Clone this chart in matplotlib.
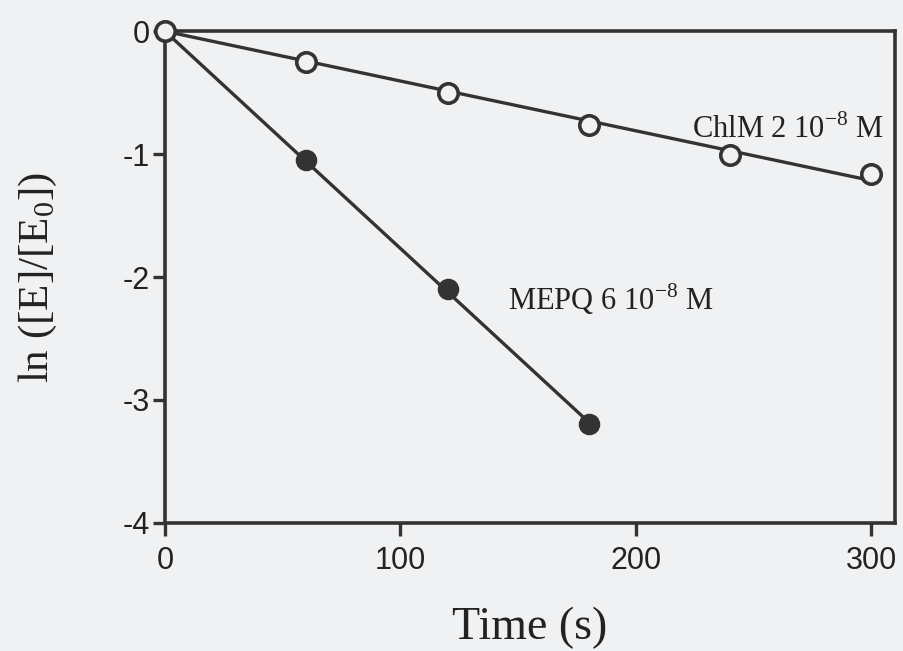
import numpy as np
import matplotlib
matplotlib.use("Agg")
import matplotlib.pyplot as plt

# data
time_chlm = [0, 60, 120, 180, 240, 300]
ln_chlm = [0.0, -0.25, -0.50, -0.76, -1.01, -1.16]
time_mepq = [0, 60, 120, 180]
ln_mepq = [0.0, -1.05, -2.10, -3.20]

x_ticks = [0, 100, 200, 300]
y_ticks = [0, -1, -2, -3, -4]

plt.rcParams['axes.unicode_minus'] = False
plt.rcParams['mathtext.fontset'] = 'custom'
plt.rcParams['mathtext.rm'] = 'Liberation Serif'

ink = '#333333'
bg = '#f0f1f3'


def fit_origin(x, y):
    x = np.asarray(x, float)
    y = np.asarray(y, float)
    return np.sum(x * y) / np.sum(x * x)


fig = plt.figure(figsize=(9.04, 6.51), dpi=100, facecolor=bg)
ax = fig.add_axes([0.1825, 0.197, 0.8075, 0.755])
ax.set_facecolor(bg)

# fitted lines
for t, v in [(time_chlm, ln_chlm), (time_mepq, ln_mepq)]:
    k = fit_origin(t, v)
    xs = np.array([0, max(t)])
    ax.plot(xs, k * xs, color=ink, lw=2.4, zorder=2, clip_on=False)

ax.plot(time_mepq, ln_mepq, 'o', ms=14, mfc=ink, mec=ink, mew=1.5,
        zorder=3, clip_on=False)
ax.plot(time_chlm, ln_chlm, 'o', ms=14, mfc=bg, mec=ink, mew=2.6,
        zorder=4, clip_on=False)

ax.set_xlim(0, 310)
ax.set_ylim(-4, 0)
ax.set_xticks(x_ticks)
ax.set_yticks(y_ticks)
ax.set_xticklabels([str(v) for v in x_ticks], family='Liberation Sans', fontsize=22)
ax.set_yticklabels([str(v) for v in y_ticks], family='Liberation Sans', fontsize=22)
ax.tick_params(axis='both', direction='out', length=9, width=2.4, color=ink,
               labelcolor='#222222')
ax.tick_params(axis='x', pad=8)
ax.tick_params(axis='y', pad=2)

for s in ax.spines.values():
    s.set_linewidth(2.6)
    s.set_color(ink)

ax.set_xlabel('Time (s)', family='Liberation Serif', fontsize=33,
              color='#222222', labelpad=22)
ax.set_ylabel(r'ln ([E]/[E$_\mathregular{0}$])', family='Liberation Serif',
              fontsize=31, color='#222222', labelpad=46)

ax.text(0.985, 0.80, r'ChlM 2 10$^{\mathregular{-8}}$ M', transform=ax.transAxes,
        ha='right', va='center', family='Liberation Serif', fontsize=22,
        color='#222222')
ax.text(0.47, 0.455, r'MEPQ 6 10$^{\mathregular{-8}}$ M', transform=ax.transAxes,
        ha='left', va='center', family='Liberation Serif', fontsize=22,
        color='#222222')

fig.savefig('out.png', dpi=100, facecolor=bg)
